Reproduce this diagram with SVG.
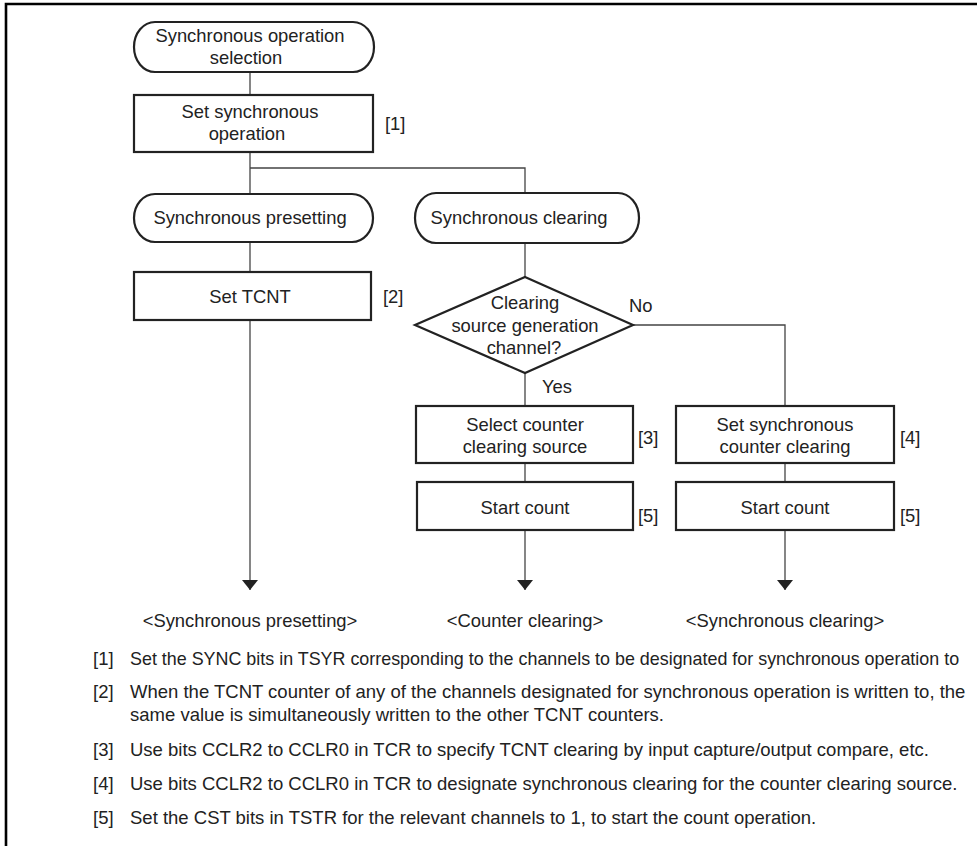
<svg xmlns="http://www.w3.org/2000/svg" width="977" height="846" viewBox="0 0 977 846">
  <style>
    text { font-family: "Liberation Sans", Arial, Helvetica, sans-serif; font-size: 18.4px; fill: #222; }
    .c { text-anchor: middle; }
    .shape { fill: #fff; stroke: #222; stroke-width: 2.2; }
    .wire { fill: none; stroke: #444; stroke-width: 1.3; }
    .frame { fill: none; stroke: #000; stroke-width: 2.6; }
    .note { font-size: 18.5px; }
    .note-tight { font-size: 17.9px; }
  </style>
  <defs>
    <marker id="arrow" viewBox="0 0 10 16" refX="10" refY="8" markerWidth="10" markerHeight="16" markerUnits="userSpaceOnUse" orient="auto">
      <path d="M0,0 L10,8 L0,16 Z" fill="#222"/>
    </marker>
  </defs>

  <!-- page frame (left and top rules) -->
  <path class="frame" d="M6,846 V4 H977"/>

  <!-- connectors -->
  <g id="connectors">
    <path class="wire" d="M250,72 V95"/>
    <path class="wire" d="M250,152 V194"/>
    <path class="wire" d="M250,168 H525 V193"/>
    <path class="wire" d="M250,242 V272"/>
    <path class="wire" d="M250,320 V590" marker-end="url(#arrow)"/>
    <path class="wire" d="M525,243 V277"/>
    <path class="wire" d="M525,373 V406"/>
    <path class="wire" d="M633,325 H785 V406"/>
    <path class="wire" d="M525,463 V482"/>
    <path class="wire" d="M785,463 V482"/>
    <path class="wire" d="M525,530 V590" marker-end="url(#arrow)"/>
    <path class="wire" d="M785,530 V590" marker-end="url(#arrow)"/>
    <text x="629" y="312">No</text>
    <text x="542" y="393">Yes</text>
  </g>

  <!-- nodes -->
  <g id="start">
    <rect class="shape" x="134" y="22" width="240" height="50" rx="21" ry="25"/>
    <text class="c" x="250" y="42">Synchronous operation</text>
    <text class="c" x="246" y="64">selection</text>
  </g>

  <g id="set-sync">
    <rect class="shape" x="134" y="95" width="239" height="57"/>
    <text class="c" x="250" y="118">Set synchronous</text>
    <text class="c" x="247" y="140">operation</text>
    <text x="385" y="130">[1]</text>
  </g>

  <g id="presetting">
    <rect class="shape" x="134" y="194" width="239" height="48" rx="21" ry="24"/>
    <text class="c" x="250" y="224">Synchronous presetting</text>
  </g>

  <g id="clearing">
    <rect class="shape" x="415" y="193" width="224" height="50" rx="21" ry="25"/>
    <text class="c" x="519" y="224">Synchronous clearing</text>
  </g>

  <g id="set-tcnt">
    <rect class="shape" x="134" y="272" width="237" height="48"/>
    <text class="c" x="250" y="303">Set TCNT</text>
    <text x="383" y="303">[2]</text>
  </g>

  <g id="decision">
    <polygon class="shape" points="525,277 633,325 525,373 415,325"/>
    <text class="c" x="525" y="309">Clearing</text>
    <text class="c" x="525" y="332">source generation</text>
    <text class="c" x="524" y="354">channel?</text>
  </g>

  <g id="select-source">
    <rect class="shape" x="416" y="406" width="217" height="57"/>
    <text class="c" x="525" y="431">Select counter</text>
    <text class="c" x="525" y="453">clearing source</text>
    <text x="638" y="444">[3]</text>
  </g>

  <g id="set-sync-clear">
    <rect class="shape" x="676" y="406" width="218" height="57"/>
    <text class="c" x="785" y="431">Set synchronous</text>
    <text class="c" x="785" y="453">counter clearing</text>
    <text x="900" y="444">[4]</text>
  </g>

  <g id="start-count-a">
    <rect class="shape" x="417" y="482" width="216" height="48"/>
    <text class="c" x="525" y="514">Start count</text>
    <text x="638" y="522">[5]</text>
  </g>

  <g id="start-count-b">
    <rect class="shape" x="676" y="482" width="218" height="48"/>
    <text class="c" x="785" y="514">Start count</text>
    <text x="900" y="522">[5]</text>
  </g>

  <g id="end-presetting">
    <text class="c" x="250" y="627">&lt;Synchronous presetting&gt;</text>
  </g>
  <g id="end-counter-clearing">
    <text class="c" x="525" y="627">&lt;Counter clearing&gt;</text>
  </g>
  <g id="end-sync-clearing">
    <text class="c" x="785" y="627">&lt;Synchronous clearing&gt;</text>
  </g>

  <!-- notes -->
  <g id="notes">
    <text class="note" x="93" y="665">[1]</text>
    <text class="note-tight" x="130" y="665">Set the SYNC bits in TSYR corresponding to the channels to be designated for synchronous operation to</text>
    <text class="note" x="93" y="698">[2]</text>
    <text class="note" x="130" y="698">When the TCNT counter of any of the channels designated for synchronous operation is written to, the</text>
    <text class="note" x="130" y="721">same value is simultaneously written to the other TCNT counters.</text>
    <text class="note" x="93" y="756">[3]</text>
    <text class="note" x="130" y="756">Use bits CCLR2 to CCLR0 in TCR to specify TCNT clearing by input capture/output compare, etc.</text>
    <text class="note" x="93" y="790">[4]</text>
    <text class="note" x="130" y="790">Use bits CCLR2 to CCLR0 in TCR to designate synchronous clearing for the counter clearing source.</text>
    <text class="note" x="93" y="824">[5]</text>
    <text class="note" x="130" y="824">Set the CST bits in TSTR for the relevant channels to 1, to start the count operation.</text>
  </g>
</svg>
